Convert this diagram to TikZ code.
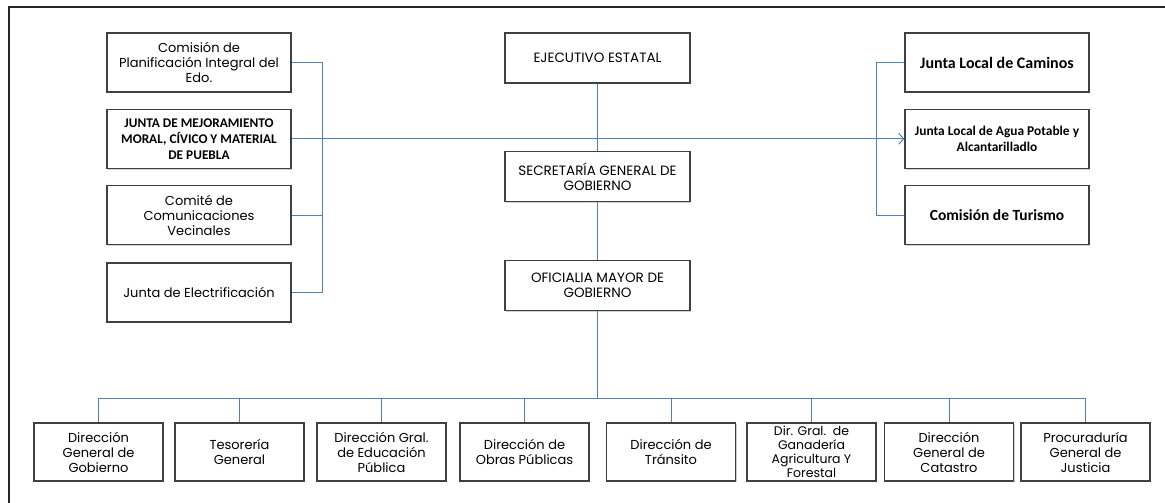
\documentclass[tikz,border=0pt]{standalone}
\usepackage{fontspec}
\setmainfont{Poppins}
\newfontfamily\calib{Carlito}
\usetikzlibrary{positioning, arrows.meta, shadows}
\definecolor{linkblue}{RGB}{79,129,189}
\tikzset{
  x=1pt, y=-1pt,
  box/.style={
    draw=black!75, line width=1.3pt, fill=white, align=center, inner sep=1pt,
    drop shadow={shadow xshift=1.2pt, shadow yshift=-1.2pt, fill=black!35}
  },
  sidebox/.style={box, minimum width=184pt, minimum height=59pt},
  midbox/.style={box, minimum width=185pt, minimum height=50pt},
  lowbox/.style={box, minimum width=129pt, minimum height=58pt},
  link/.style={draw=linkblue, line width=1pt},
  txt/.style={font=\fontsize{13}{15}\selectfont},
  boldtxt/.style={font=\calib\bfseries\fontsize{13.3}{16}\selectfont}
}

\begin{document}
\begin{tikzpicture}
  \useasboundingbox (0,0) rectangle (1165,503);
  \draw[line width=2pt, black!85] (9,503) -- (9,7) -- (1165,7);

  % left column
  \node[sidebox, txt] (plan) at (199,62.5) {Comisión de\\Planificación Integral del\\Edo.};
  \node[sidebox, boldtxt, below=16pt of plan] (mejora) {JUNTA DE MEJORAMIENTO\\MORAL, CÍVICO Y MATERIAL\\DE PUEBLA};
  \node[sidebox, txt, below=16pt of mejora] (comite) {Comité de\\Comunicaciones\\Vecinales};
  \node[sidebox, txt, below=17pt of comite] (electr) {Junta de Electrificación};

  % center column
  \node[midbox, txt, font=\fontsize{13.5}{15}\selectfont] (ejec) at (597.5,58) {EJECUTIVO ESTATAL};
  \node[midbox, txt, font=\fontsize{13.5}{15}\selectfont, below=67pt of ejec] (secre) {SECRETARÍA GENERAL DE\\GOBIERNO};
  \node[midbox, txt, font=\fontsize{13.5}{15}\selectfont, below=58pt of secre] (ofic) {OFICIALIA MAYOR DE\\GOBIERNO};

  % right column
  \node[sidebox, font=\calib\bfseries\fontsize{16}{18}\selectfont] (caminos) at (997,62.5) {Junta Local de Caminos};
  \node[sidebox, font=\calib\bfseries\fontsize{13.4}{16}\selectfont, below=16pt of caminos] (agua) {Junta Local de Agua Potable y\\Alcantarilladlo};
  \node[sidebox, font=\calib\bfseries\fontsize{15.5}{18}\selectfont, below=16pt of agua] (turismo) {Comisión de Turismo};

  % bottom row
  \node[lowbox, txt] (gob) at (98.5,452) {Dirección\\General de\\Gobierno};
  \node[lowbox, txt] (teso) at (239.5,452) {Tesorería\\General};
  \node[lowbox, txt] (educ) at (381.5,452) {Dirección Gral.\\de Educación\\Pública};
  \node[lowbox, txt] (obras) at (524.5,452) {Dirección de\\Obras Públicas};
  \node[lowbox, txt] (trans) at (671,452) {Dirección de\\Tránsito};
  \node[lowbox, font=\fontsize{12.5}{14}\selectfont] (gana) at (811.5,452) {Dir. Gral.\ \ de\\Ganadería\\Agricultura Y\\Forestal};
  \node[lowbox, txt] (catas) at (949,452) {Dirección\\General de\\Catastro};
  \node[lowbox, txt] (procu) at (1085.5,452) {Procuraduría\\General de\\Justicia};

  % connectors
  \coordinate (lbar) at (322,0);
  \coordinate (rbar) at (876,0);
  \coordinate (bus) at (0,398);
  \draw[link] (plan.east) -| (lbar |- electr.east) -- (electr.east);
  \draw[link] (comite.east) -- (comite.east -| lbar);
  \draw[link, -{Straight Barb[length=5pt,width=11pt]}] (mejora.east) -- (agua.west);
  \draw[link] (caminos.west) -| (rbar |- turismo.west) -- (turismo.west);
  \draw[link] (ejec) -- (secre) -- (ofic) -- (ofic |- bus);
  \draw[link] (gob.north) |- (procu.north |- bus) -- (procu.north);
  \foreach \d in {teso, educ, obras, trans, gana, catas}
    \draw[link] (\d.north) -- (\d.north |- bus);
\end{tikzpicture}
\end{document}
